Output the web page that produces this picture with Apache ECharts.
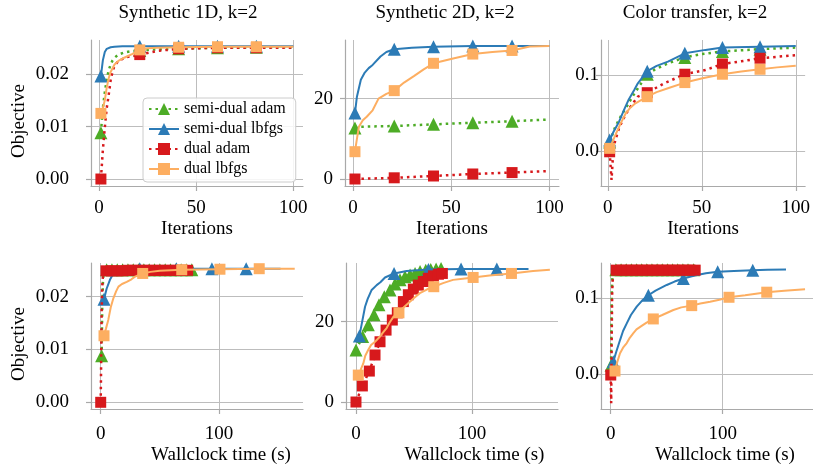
<!DOCTYPE html>
<html><head><meta charset="utf-8">
<script src="https://cdn.jsdelivr.net/npm/echarts@6/dist/echarts.min.js"></script>
<style>html,body{margin:0;padding:0;background:#fff}#c{width:813px;height:467px}</style>
</head><body><div id="c"></div><script>
// ---------- labels ----------
const panelTitles = ['Synthetic 1D, k=2', 'Synthetic 2D, k=2', 'Color transfer, k=2'];
const curveNames = ['semi-dual adam', 'semi-dual lbfgs', 'dual adam', 'dual lbfgs'];
const xTicksIter = [0, 50, 100];
const xTicksTime = [0, 100];
const yTicks1D = [0, 0.01, 0.02];
const yTicks2D = [0, 20];
const yTicksColor = [0, 0.1];

// ---------- Synthetic 1D, iterations ----------
const p1SdAdamLine = [[1,0.0088],[2,0.0135],[3,0.0165],[4,0.019],[5,0.0207],[6,0.0218],[7,0.0226],[8,0.0231],[10,0.0237],[13,0.0241],[16,0.0243],[21,0.0245],[30,0.0247],[41,0.0248],[50,0.0249],[61,0.025],[81,0.0251],[100,0.0251]];
const p1SdAdamMark = [[1,0.0088],[21,0.0245],[41,0.0248],[61,0.025],[81,0.0251]];
const p1SdLbfgsLine = [[1,0.0196],[2,0.0226],[3,0.0242],[4,0.0248],[6,0.0251],[8,0.0252],[12,0.0253],[21,0.0253],[41,0.0253],[61,0.0253],[81,0.0253],[100,0.0253]];
const p1SdLbfgsMark = [[1,0.0196],[21,0.0253],[41,0.0253],[61,0.0253],[81,0.0253]];
const p1DAdamLine = [[1,0],[2,0.0055],[3,0.0098],[4,0.0135],[5,0.016],[6,0.0188],[7,0.0205],[8,0.0216],[10,0.0225],[14,0.0232],[20,0.0236],[25,0.024],[30,0.0244],[41,0.0248],[50,0.0249],[61,0.025],[81,0.025],[100,0.025]];
const p1DAdamMark = [[1,0],[21,0.0237],[41,0.0248],[61,0.025],[81,0.025]];
const p1DLbfgsLine = [[1,0.0125],[2,0.0135],[3,0.015],[4,0.0174],[5,0.0192],[6,0.0204],[8,0.0218],[10,0.0225],[13,0.0231],[17,0.0238],[21,0.0246],[25,0.0249],[30,0.025],[41,0.0251],[61,0.0252],[81,0.0252],[100,0.0252]];
const p1DLbfgsMark = [[1,0.0125],[21,0.0246],[41,0.0251],[61,0.0252],[81,0.0252]];

// ---------- Synthetic 2D, iterations ----------
const p2SdAdamLine = [[1,12.7],[3,13.0],[21,13.2],[41,13.6],[61,14.0],[81,14.4],[100,14.8]];
const p2SdAdamMark = [[1,12.7],[21,13.2],[41,13.6],[61,14.0],[81,14.4]];
const p2SdLbfgsLine = [[1,16.4],[2,20.5],[4,24.7],[6,26.5],[8,27.6],[10,28.4],[14,30.5],[17,31.6],[21,32.3],[30,32.7],[41,32.9],[61,33.1],[81,33.1],[100,33.1]];
const p2SdLbfgsMark = [[1,16.4],[21,32.3],[41,32.9],[61,33.1],[81,33.1]];
const p2DAdamLine = [[1,0],[21,0.3],[41,0.75],[61,1.25],[81,1.6],[100,2.0]];
const p2DAdamMark = [[1,0],[21,0.3],[41,0.75],[61,1.25],[81,1.6]];
const p2DLbfgsLine = [[1,6.8],[2,10],[3,13.0],[5,14.6],[7,15.5],[10,17.1],[13,20],[17,21.2],[21,22.0],[26,24],[31,25.6],[36,27.3],[41,28.8],[51,30],[61,31.1],[71,31.6],[81,32],[90,33],[100,33.1]];
const p2DLbfgsMark = [[1,6.8],[21,22.0],[41,28.8],[61,31.1],[81,32.0]];

// ---------- Color transfer, iterations ----------
const p3SdAdamLine = [[1,0.012],[4,0.032],[7,0.046],[10,0.058],[13,0.071],[16,0.0825],[21,0.101],[25,0.107],[30,0.113],[35,0.118],[41,0.123],[50,0.1275],[61,0.131],[71,0.1325],[81,0.134],[90,0.135],[100,0.136]];
const p3SdAdamMark = [[1,0.012],[21,0.101],[41,0.123],[61,0.131],[81,0.134]];
const p3SdLbfgsLine = [[1,0.0145],[3,0.025],[6,0.0386],[9,0.056],[11,0.067],[14,0.08],[16,0.089],[21,0.105],[26,0.112],[32,0.1175],[41,0.1285],[52,0.133],[61,0.136],[81,0.137],[100,0.138]];
const p3SdLbfgsMark = [[1,0.0145],[21,0.105],[41,0.1285],[61,0.136],[81,0.137]];
const p3DAdamLine = [[1,-0.001],[2,-0.038],[3,0.003],[4,0.014],[6,0.03],[8,0.041],[10,0.05],[12,0.058],[16,0.0715],[21,0.0767],[30,0.089],[41,0.101],[52,0.1065],[61,0.1145],[71,0.118],[81,0.122],[100,0.126]];
const p3DAdamMark = [[1,-0.001],[21,0.0767],[41,0.101],[61,0.1145],[81,0.122]];
const p3DLbfgsLine = [[1,0.0035],[3,0.015],[4.4,0.023],[7,0.037],[9.6,0.0496],[12,0.057],[14.7,0.0628],[21,0.0715],[26,0.0775],[32,0.0825],[41,0.09],[51,0.096],[61,0.101],[71,0.1045],[81,0.1075],[90,0.11],[100,0.112]];
const p3DLbfgsMark = [[1,0.0035],[21,0.0715],[41,0.09],[61,0.101],[81,0.1075]];

// ---------- Synthetic 1D, wallclock ----------
const p4SdAdamLine = [[0.8,0.0088],[1.3,0.018],[2,0.0235],[3,0.0248],[5,0.0251],[77,0.0251]];
const p4SdAdamMark = [[0.8,0.0088],[5,0.0251],[9.5,0.0251],[14,0.0251],[18.5,0.0251],[23,0.0251],[27.5,0.0251],[32,0.0251],[36.5,0.0251],[41,0.0251],[45.5,0.0251],[50,0.0251],[54.5,0.0251],[59,0.0251],[63.5,0.0251],[68,0.0251],[72.5,0.0251],[77,0.0251]];
const p4SdLbfgsLine = [[2.8,0.0195],[5,0.0215],[7.8,0.0232],[10,0.0241],[12,0.0247],[15,0.0251],[20,0.0253],[33,0.0253],[64,0.0253],[94,0.0253],[123,0.0253],[152,0.0253]];
const p4SdLbfgsMark = [[2.8,0.0195],[33,0.0253],[64,0.0253],[94,0.0253],[123,0.0253]];
const p4DAdamLine = [[0,0],[0.4,0.008],[0.8,0.017],[1.3,0.022],[2,0.0242],[3,0.0248],[4.5,0.0249],[73.5,0.025]];
const p4DAdamMark = [[0,0],[4.5,0.0249],[9.1,0.0249],[13.7,0.0249],[18.3,0.0249],[22.9,0.025],[27.5,0.025],[32.1,0.025],[36.7,0.025],[41.3,0.025],[45.9,0.025],[50.5,0.025],[55.1,0.025],[59.7,0.025],[64.3,0.025],[68.9,0.025],[73.5,0.025]];
const p4DLbfgsLine = [[2.8,0.0126],[4.5,0.014],[6.4,0.0156],[8.5,0.018],[10.7,0.0197],[13,0.021],[15,0.0219],[18,0.0224],[22,0.0228],[26,0.0233],[29,0.0238],[35.5,0.0244],[42,0.0247],[50,0.0249],[68.5,0.0251],[100.8,0.0252],[134,0.0253],[164,0.0253]];
const p4DLbfgsMark = [[2.8,0.0126],[35.5,0.0244],[68.5,0.0251],[100.8,0.0252],[134,0.0253]];

// ---------- Synthetic 2D, wallclock ----------
const p5SdAdamLine = [[0,12.95],[5.7,16.3],[10.6,19.2],[15.5,21.7],[19.8,24.2],[24.4,26.2],[29.3,27.9],[33.6,29.4],[37.9,30.4],[42.2,31.2],[46.6,31.6],[50.9,32.0],[55.2,32.5],[60.1,32.8],[64.4,33.0],[69,33.1],[73.3,33.2]];
const p5SdAdamMark = p5SdAdamLine;
const p5SdLbfgsLine = [[2.9,16.4],[5,19.5],[7.8,23.7],[10,25.6],[13.5,27.9],[17.8,29.1],[21,29.8],[25,31.0],[32.8,32.0],[43.7,32.6],[62.4,33.0],[90.5,33.1],[121.3,33.1],[148.6,33.1]];
const p5SdLbfgsMark = [[2.9,16.4],[32.8,32.0],[62.4,33.0],[90.5,33.1],[121.3,33.1]];
const p5DAdamLine = [[0,0],[5.5,4.0],[11.5,7.7],[16.4,11.7],[20.7,15.0],[25.9,17.9],[31.3,20.4],[35.6,22.2],[40.8,25.0],[45.1,26.7],[49.4,28.1],[53.7,29.1],[58,30.0],[62.3,30.8],[66.7,31.4],[71,31.8],[74.4,32.0]];
const p5DAdamMark = p5DAdamLine;
const p5DLbfgsLine = [[2,6.7],[4,8],[6.3,9.6],[8,11.5],[10.6,13],[13,14.2],[16.4,15],[20.7,16.3],[23,17.2],[26.4,18.4],[29,19.8],[32.2,21.2],[37,22.2],[41,23.5],[45,24.6],[50,25.9],[55,27.1],[61,28],[67,28.7],[75,29.6],[83.6,30.4],[92,30.7],[100.9,31.0],[115,31.5],[133.9,32.0],[152.6,32.6],[167,32.9]];
const p5DLbfgsMark = [[2,6.7],[37,22.2],[67,28.7],[100.9,31.0],[133.9,32.0]];

// ---------- Color transfer, wallclock ----------
const p6SdAdamLine = [[0.3,0.012],[0.6,0.06],[1,0.11],[1.6,0.13],[2.5,0.136],[4.6,0.1375],[74,0.1375]];
const p6SdAdamMark = [[0.3,0.012],[4.6,0.1375],[9.2,0.1375],[13.8,0.1375],[18.4,0.1375],[23,0.1375],[27.6,0.1375],[32.2,0.1375],[36.8,0.1375],[41.4,0.1375],[46,0.1375],[50.6,0.1375],[55.2,0.1375],[59.8,0.1375],[64.4,0.1375],[69,0.1375],[74,0.1375]];
const p6SdLbfgsLine = [[2.3,0.0166],[5,0.03],[8.3,0.045],[11,0.057],[14.3,0.067],[18,0.078],[23.2,0.089],[28,0.097],[33.6,0.104],[40,0.11],[50,0.1175],[57,0.122],[64.8,0.126],[75,0.13],[85,0.133],[95.5,0.135],[110,0.136],[126.8,0.137],[140,0.1375],[156.5,0.138]];
const p6SdLbfgsMark = [[2.3,0.0166],[33.6,0.104],[64.8,0.126],[95.5,0.135],[126.8,0.137]];
const p6DAdamLine = [[0,-0.001],[0.4,-0.038],[0.8,0.04],[1.3,0.11],[2,0.13],[3,0.135],[4.9,0.137],[75.4,0.137]];
const p6DAdamMark = [[0,-0.001],[4.9,0.137],[9.6,0.137],[14.3,0.137],[19,0.137],[23.7,0.137],[28.4,0.137],[33.1,0.137],[37.8,0.137],[42.5,0.137],[47.2,0.137],[51.9,0.137],[56.6,0.137],[61.3,0.137],[66,0.137],[70.7,0.137],[75.4,0.137]];
const p6DLbfgsLine = [[3.8,0.0043],[6,0.017],[8.3,0.0276],[11,0.035],[14.3,0.041],[17,0.048],[20.2,0.054],[23,0.059],[27.6,0.0636],[32,0.068],[38,0.0728],[46,0.078],[55.9,0.0846],[63,0.088],[72.3,0.0903],[80,0.093],[88.7,0.0955],[97,0.098],[105.6,0.1013],[120,0.104],[139.3,0.108],[155,0.11],[173.5,0.112]];
const p6DLbfgsMark = [[3.8,0.0043],[38,0.0728],[72.3,0.0903],[105.6,0.1013],[139.3,0.108]];

// ---------- assembly ----------
const panels = [
  [[p1SdAdamLine,p1SdAdamMark],[p1SdLbfgsLine,p1SdLbfgsMark],[p1DAdamLine,p1DAdamMark],[p1DLbfgsLine,p1DLbfgsMark]],
  [[p2SdAdamLine,p2SdAdamMark],[p2SdLbfgsLine,p2SdLbfgsMark],[p2DAdamLine,p2DAdamMark],[p2DLbfgsLine,p2DLbfgsMark]],
  [[p3SdAdamLine,p3SdAdamMark],[p3SdLbfgsLine,p3SdLbfgsMark],[p3DAdamLine,p3DAdamMark],[p3DLbfgsLine,p3DLbfgsMark]],
  [[p4SdAdamLine,p4SdAdamMark],[p4SdLbfgsLine,p4SdLbfgsMark],[p4DAdamLine,p4DAdamMark],[p4DLbfgsLine,p4DLbfgsMark]],
  [[p5SdAdamLine,p5SdAdamMark],[p5SdLbfgsLine,p5SdLbfgsMark],[p5DAdamLine,p5DAdamMark],[p5DLbfgsLine,p5DLbfgsMark]],
  [[p6SdAdamLine,p6SdAdamMark],[p6SdLbfgsLine,p6SdLbfgsMark],[p6DAdamLine,p6DAdamMark],[p6DLbfgsLine,p6DLbfgsMark]]
];
const yTicksPerPanel = [yTicks1D, yTicks2D, yTicksColor, yTicks1D, yTicks2D, yTicksColor];
const yDecimals = [2, 0, 1, 2, 0, 1];

const FONT = 'Liberation Serif';
const SPINE = '#a9a9a9';
const GRIDC = '#bdbdbd';
const styles = [
  {color:'#4dac26', symbol:'triangle', size:13, dotted:true},
  {color:'#2c7bb6', symbol:'triangle', size:13, dotted:false},
  {color:'#d7191c', symbol:'rect', size:11, dotted:true},
  {color:'#fdae61', symbol:'rect', size:11, dotted:false}
];
const grids = [
  {left:91, top:40, width:212, height:146},
  {left:345, top:40, width:214, height:146},
  {left:601, top:40, width:212, height:146},
  {left:91, top:263, width:212, height:146},
  {left:346, top:263, width:212, height:146},
  {left:601, top:263, width:212, height:146}
];
const xRanges = [[-4.1,105],[-4.07,104.9],[-3.6,105],[-8.2,171],[-8.6,174],[-8.7,180.6]];
const yRanges = [[-0.00133,0.02648],[-1.74,34.6],[-0.046,0.146],[-0.00127,0.02638],[-1.74,34.6],[-0.0457,0.1464]];
const yLabelMargin = [22, 12, 2, 22, 12, 2];
const titleCenters = [188, 445, 695];
const timeNameShift = [48, 45, 36];

const xAxes = [], yAxes = [], series = [];
for (let p = 0; p < 6; p++) {
  const top = p < 3;
  const xt = top ? xTicksIter : xTicksTime;
  xAxes.push({
    type:'value', gridIndex:p, min:xRanges[p][0], max:xRanges[p][1],
    axisLine:{show:true, onZero:false, lineStyle:{color:SPINE, width:1.2}},
    axisTick:{show:true, length:5, customValues:xt, lineStyle:{color:SPINE, width:1.2}},
    axisLabel:{customValues:xt, margin: top ? 13 : 16, fontFamily:FONT, fontSize:19, color:'#000',
      formatter: v => String(Math.round(v))},
    splitLine:{show:true, lineStyle:{color:GRIDC, width:1}},
    name: top ? 'Iterations' : 'Wallclock time (s)',
    nameLocation:'middle', nameGap: top ? 34 : 37,
    nameTextStyle:{fontFamily:FONT, fontSize:19, color:'#000',
      padding: top ? 0 : [0,0,0,timeNameShift[p-3]]}
  });
  const yt = yTicksPerPanel[p];
  const dec = yDecimals[p];
  const yAx = {
    type:'value', gridIndex:p, min:yRanges[p][0], max:yRanges[p][1],
    axisLine:{show:true, onZero:false, lineStyle:{color:SPINE, width:1.2}},
    axisTick:{show:true, length:5, customValues:yt, lineStyle:{color:SPINE, width:1.2}},
    axisLabel:{customValues:yt, margin:yLabelMargin[p], fontFamily:FONT, fontSize:19, color:'#000',
      formatter: v => Number(v).toFixed(dec)},
    splitLine:{show:true, lineStyle:{color:GRIDC, width:1}}
  };
  if (p === 0 || p === 3) {
    yAx.name = 'Objective';
    yAx.nameLocation = 'middle';
    yAx.nameRotate = 90;
    yAx.nameGap = 62;
    yAx.nameTextStyle = {fontFamily:FONT, fontSize:19, color:'#000', padding:[0,16,0,0]};
  }
  yAxes.push(yAx);

  for (let c = 0; c < 4; c++) {
    const st = styles[c];
    series.push({
      type:'line', name:curveNames[c], xAxisIndex:p, yAxisIndex:p,
      data:panels[p][c][0], showSymbol:false, symbol:st.symbol, symbolSize:st.size,
      z: 2 + c,
      lineStyle: st.dotted ? {color:st.color, width:2.5, type:[2.5,4], cap:'butt'}
                           : {color:st.color, width:2},
      itemStyle:{color:st.color},
      emphasis:{disabled:true}, silent:true
    });
    series.push({
      type:'scatter', name:curveNames[c] + ' markers', xAxisIndex:p, yAxisIndex:p,
      data:panels[p][c][1], symbol:st.symbol, symbolSize:st.size, z: 2 + c,
      itemStyle:{color:st.color, opacity:1},
      emphasis:{disabled:true}, silent:true
    });
  }
}

const titles = panelTitles.map((t, i) => ({
  text:t, left:titleCenters[i], top:4, textAlign:'center', padding:0,
  textStyle:{fontFamily:FONT, fontSize:19, fontWeight:'normal', color:'#000'}
}));

const option = {
  animation:false,
  backgroundColor:'#fff',
  title:titles,
  legend:{
    data:curveNames, orient:'vertical', left:143, top:98,
    padding:[3,10,5,5], itemGap:4, itemWidth:30, itemHeight:15,
    backgroundColor:'rgba(255,255,255,0.85)', borderColor:'#cccccc', borderWidth:1, borderRadius:4,
    textStyle:{fontFamily:FONT, fontSize:16, color:'#000', lineHeight:15},
    selectedMode:false
  },
  grid:grids,
  xAxis:xAxes,
  yAxis:yAxes,
  series:series
};
const chart = echarts.init(document.getElementById('c'), null, {renderer:'canvas'});
chart.setOption(option);
</script></body></html>
